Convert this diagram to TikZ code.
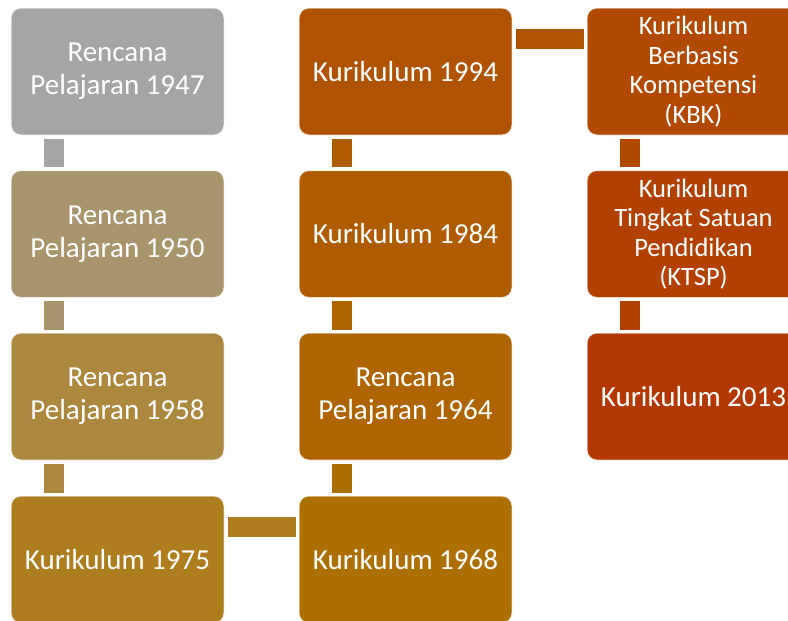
\documentclass[tikz,border=0pt]{standalone}
\usepackage{fontspec}
\setmainfont{Carlito}
\definecolor{cA}{HTML}{A5A5A5}
\definecolor{cB}{HTML}{A8956D}
\definecolor{cC}{HTML}{AC883F}
\definecolor{cD}{HTML}{AD7D1E}
\definecolor{cE}{HTML}{AD6F00}
\definecolor{cF}{HTML}{AE6500}
\definecolor{cG}{HTML}{AF5C00}
\definecolor{cH}{HTML}{B05300}
\definecolor{cI}{HTML}{B14A00}
\definecolor{cJ}{HTML}{B24100}
\definecolor{cK}{HTML}{B33800}
\tikzset{
  box/.style={rectangle, rounded corners=10pt, fill=#1, draw=white, draw opacity=0.7, line width=1pt,
    minimum width=213pt, minimum height=127pt, text=white, align=center, inner sep=0pt,
    font=\fontsize{29}{33}\selectfont},
  smallbox/.style={box=#1, font=\fontsize{26.5}{29.5}\selectfont},
  conn/.style={line width=20pt, draw=#1, line cap=butt}
}
\begin{document}
\begin{tikzpicture}[x=1pt,y=-1pt]
\useasboundingbox (0,0) rectangle (788,621);
\clip (0,0) rectangle (788,621);
% column 1
\node[box=cA] (p47) at (117.5,71.5) {Rencana\\Pelajaran 1947};
\node[box=cB] (p50) at (117.5,234) {Rencana\\Pelajaran 1950};
\node[box=cC] (p58) at (117.5,396.5) {Rencana\\Pelajaran 1958};
\node[box=cD] (k75) at (117.5,559.5) {Kurikulum 1975};
% column 2
\node[box=cE] (k68) at (405.5,559.5) {Kurikulum 1968};
\node[box=cF] (p64) at (405.5,396.5) {Rencana\\Pelajaran 1964};
\node[box=cG] (k84) at (405.5,234) {Kurikulum 1984};
\node[box=cH] (k94) at (405.5,71.5) {Kurikulum 1994};
% column 3
\node[smallbox=cI] (kbk) at (693.5,71.5) {Kurikulum\\Berbasis\\Kompetensi\\(KBK)};
\node[smallbox=cJ] (ktsp) at (693.5,234) {Kurikulum\\Tingkat Satuan\\Pendidikan\\(KTSP)};
\node[box=cK] (k13) at (693.5,396.5) {Kurikulum 2013};
% connectors
\draw[conn=cA] ([xshift=43pt,yshift=-3pt]p47.south west) -- ([xshift=43pt,yshift=3pt]p50.north west);
\draw[conn=cB] ([xshift=43pt,yshift=-3pt]p50.south west) -- ([xshift=43pt,yshift=3pt]p58.north west);
\draw[conn=cC] ([xshift=43pt,yshift=-3pt]p58.south west) -- ([xshift=43pt,yshift=3pt]k75.north west);
\draw[conn=cD] ([xshift=3pt,yshift=-31pt]k75.north east) -- ([xshift=-3pt,yshift=-31pt]k68.north west);
\draw[conn=cE] ([xshift=43pt,yshift=3pt]k68.north west) -- ([xshift=43pt,yshift=-3pt]p64.south west);
\draw[conn=cF] ([xshift=43pt,yshift=3pt]p64.north west) -- ([xshift=43pt,yshift=-3pt]k84.south west);
\draw[conn=cG] ([xshift=43pt,yshift=3pt]k84.north west) -- ([xshift=43pt,yshift=-3pt]k94.south west);
\draw[conn=cH] ([xshift=3pt,yshift=-31pt]k94.north east) -- ([xshift=-3pt,yshift=-31pt]kbk.north west);
\draw[conn=cI] ([xshift=43pt,yshift=-3pt]kbk.south west) -- ([xshift=43pt,yshift=3pt]ktsp.north west);
\draw[conn=cJ] ([xshift=43pt,yshift=-3pt]ktsp.south west) -- ([xshift=43pt,yshift=3pt]k13.north west);
\end{tikzpicture}
\end{document}
